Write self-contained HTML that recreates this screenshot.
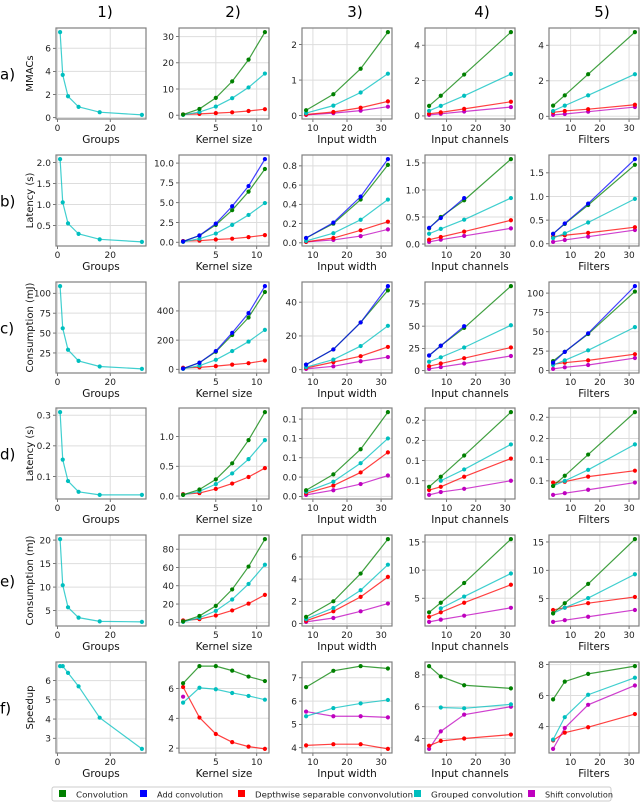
<!DOCTYPE html>
<html><head><meta charset="utf-8">
<style>
html,body{margin:0;padding:0;background:#fff;}
svg{display:block;font-family:"DejaVu Sans","Liberation Sans",sans-serif;}
</style></head>
<body>
<svg id="fig" width="640" height="802" viewBox="0 0 640 802" xmlns="http://www.w3.org/2000/svg"></svg>
<script>
const xGroups=[1,2,4,8,16,32];
const xKernel=[1,3,5,7,9,11];
const xWidth=[8,16,24,32];
const xChannels=[4,8,16,32];
const xFilters=[4,8,16,32];
const colTitles=["Groups","Kernel size","Input width","Input channels","Filters"];
const colHeaders=["1)","2)","3)","4)","5)"];
const rowLabels=["a)","b)","c)","d)","e)","f)"];
const rowYTitles=["MMACs","Latency (s)","Consumption (mJ)","Latency (s)","Consumption (mJ)","Speedup"];
const xTicks=[[0,20],[5,10],[10,20,30],[10,20,30],[10,20,30]];

// Row a) MMACs
const aConv=[null,[0.26,2.4,6.6,12.9,21.2,31.7],[0.15,0.6,1.32,2.35],[0.57,1.14,2.34,4.74],[0.6,1.18,2.37,4.74]];
const aAdd=[null,null,null,null,null];
const aDw=[null,[0.3,0.5,0.8,1.1,1.6,2.3],[0.03,0.1,0.22,0.4],[0.12,0.2,0.4,0.8],[0.22,0.3,0.4,0.65]];
const aGrp=[[7.4,3.7,1.85,0.93,0.47,0.24],[0.13,1.2,3.3,6.5,10.6,15.9],[0.07,0.28,0.65,1.18],[0.29,0.57,1.14,2.37],[0.3,0.6,1.18,2.37]];
const aShift=[null,[0.3,null,null,null,null,null],[0.02,0.07,0.14,0.25],[0.06,0.12,0.25,0.5],[0.08,0.13,0.26,0.52]];
const aTicks=[[0,2,4,6],[0,10,20,30],[0,1,2],[0,2,4],[0,2,4]];
const aLabels=[["0","2","4","6"],["0","10","20","30"],["0","1","2"],["0","2","4"],["0","2","4"]];

// Row b) Latency
const bConv=[null,[0.1,0.85,2.2,4.05,6.4,9.25],[0.05,0.2,0.45,0.81],[0.29,0.5,0.81,1.57],[0.21,0.42,0.82,1.67]];
const bAdd=[null,[0.1,0.85,2.35,4.55,7.1,10.5],[0.05,0.21,0.48,0.87],[0.3,0.48,0.85,null],[0.21,0.43,0.85,1.79]];
const bDw=[null,[0.15,0.2,0.35,0.45,0.65,0.9],[0.01,0.05,0.13,0.22],[0.08,0.13,0.23,0.44],[0.15,0.18,0.23,0.35]];
const bGrp=[[2.08,1.05,0.55,0.3,0.17,0.11],[0.05,0.45,1.1,2.2,3.45,4.95],[0.02,0.1,0.24,0.45],[0.19,0.28,0.45,0.85],[0.12,0.22,0.45,0.95]];
const bShift=[null,[0.15,null,null,null,null,null],[0.01,0.03,0.07,0.14],[0.04,0.08,0.15,0.29],[0.04,0.08,0.15,0.29]];
const bTicks=[[0.5,1,1.5,2],[0,2.5,5,7.5,10],[0,0.2,0.4,0.6,0.8],[0,0.5,1,1.5],[0,0.5,1,1.5]];
const bLabels=[["0.5","1.0","1.5","2.0"],["0.0","2.5","5.0","7.5","10.0"],["0.0","0.2","0.4","0.6","0.8"],["0.0","0.5","1.0","1.5"],["0.0","0.5","1.0","1.5"]];

// Row c) Consumption
const cConv=[null,[5,45,120,235,355,530],[3,12,28,47],[17,28,48,95],[12,24,47,102]];
const cAdd=[null,[5,45,125,250,385,570],[3,12,28,49.5],[17,28,50,null],[10,24,48,109]];
const cDw=[null,[10,13,22,32,42,60],[1,4.5,8,13.5],[5,8,14,26],[8,10,13,21]];
const cGrp=[[109,56,29,15,8,5],[3,25,65,125,190,270],[1.5,6,14,26],[10,15,26,51],[7,13,26,56]];
const cShift=[null,[10,null,null,null,null,null],[0.5,2,5,7.5],[2,4,8,16.5],[2,4,7,16]];
const cTicks=[[25,50,75,100],[0,200,400],[0,20,40],[0,25,50,75],[0,25,50,75,100]];
const cLabels=[["25","50","75","100"],["0","200","400"],["0","20","40"],["0","25","50","75"],["0","25","50","75","100"]];

// Row d) Latency
const dConv=[null,[0.02,0.11,0.28,0.55,0.94,1.41],[0.008,0.0285,0.061,0.109],[0.035,0.06,0.1125,0.22],[0.038,0.062,0.112,0.212]];
const dAdd=[null,null,null,null,null];
const dDw=[null,[0.03,0.05,0.12,0.21,0.32,0.47],[0.004,0.014,0.031,0.057],[0.027,0.035,0.06,0.105],[0.046,0.048,0.06,0.074]];
const dGrp=[[0.31,0.155,0.085,0.05,0.04,0.04],[0.02,0.08,0.2,0.38,0.62,0.94],[0.006,0.019,0.043,0.075],[null,0.05,0.078,0.14],[0.038,0.05,0.076,0.136]];
const dShift=[null,[0.03,null,null,null,null,null],[0.002,0.008,0.016,0.027],[0.015,0.022,0.03,0.05],[0.017,0.021,0.029,0.046]];
const dTicks=[[0.1,0.2,0.3],[0,0.5,1],[0,0.025,0.05,0.075,0.1],[0.05,0.1,0.15,0.2],[0.05,0.1,0.15,0.2]];
const dLabels=[["0.1","0.2","0.3"],["0.0","0.5","1.0"],["0.0","0.0","0.1","0.1","0.1"],["0.1","0.1","0.2","0.2"],["0.1","0.1","0.2","0.2"]];

// Row e) Consumption
const eConv=[null,[1,7,18,36,61,91],[0.6,2.0,4.5,7.6],[2.5,4.2,7.7,15.5],[2.4,4.2,7.6,15.5]];
const eAdd=[null,null,null,null,null];
const eDw=[null,[2,3.5,7.5,13,20.5,30],[0.25,1.1,2.4,4.2],[1.7,2.5,4.2,7.4],[3.0,3.4,4.2,5.3]];
const eGrp=[[20.2,10.4,5.7,3.5,2.7,2.6],[0.5,5,12.5,25,42,63],[0.4,1.4,3.0,5.3],[null,3.2,5.3,9.4],[2.4,3.4,5.1,9.3]];
const eShift=[null,[2,null,null,null,null,null],[0.15,0.5,1.1,1.8],[0.8,1.2,1.9,3.3],[0.9,1.2,1.8,3.0]];
const eTicks=[[5,10,15,20],[0,20,40,60,80],[0,2,4,6],[5,10,15],[5,10,15]];
const eLabels=[["5","10","15","20"],["0","20","40","60","80"],["0","2","4","6"],["5","10","15"],["5","10","15"]];

// Row f) Speedup
const fConv=[null,[6.35,7.5,7.5,7.2,6.8,6.5],[6.6,7.3,7.5,7.4],[8.55,7.9,7.35,7.15],[5.75,6.9,7.4,7.9]];
const fAdd=[null,null,null,null,null];
const fDw=[null,[6.1,4.05,2.95,2.4,2.1,1.95],[4.1,4.15,4.15,3.95],[3.55,3.85,4.0,4.25],[3.1,3.6,3.95,4.8]];
const fGrp=[[6.75,6.75,6.4,5.7,4.07,2.45],[5.05,6.05,5.95,5.7,5.5,5.25],[5.35,5.7,5.9,6.05],[null,5.95,5.9,6.15],[3.15,4.6,6.05,7.15]];
const fShift=[null,[5.45,null,null,null,null,null],[5.55,5.35,5.35,5.3],[3.35,4.45,5.5,6.0],[2.55,3.9,5.4,6.65]];
const fTicks=[[3,4,5,6],[2,4,6],[4,5,6,7],[4,6,8],[4,6,8]];
const fLabels=[["3","4","5","6"],["2","4","6"],["4","5","6","7"],["4","6","8"],["4","6","8"]];

const rows=[
 {conv:aConv,add:aAdd,dw:aDw,grp:aGrp,shift:aShift,ticks:aTicks,labels:aLabels},
 {conv:bConv,add:bAdd,dw:bDw,grp:bGrp,shift:bShift,ticks:bTicks,labels:bLabels},
 {conv:cConv,add:cAdd,dw:cDw,grp:cGrp,shift:cShift,ticks:cTicks,labels:cLabels},
 {conv:dConv,add:dAdd,dw:dDw,grp:dGrp,shift:dShift,ticks:dTicks,labels:dLabels},
 {conv:eConv,add:eAdd,dw:eDw,grp:eGrp,shift:eShift,ticks:eTicks,labels:eLabels},
 {conv:fConv,add:fAdd,dw:fDw,grp:fGrp,shift:fShift,ticks:fTicks,labels:fLabels}
];
const xsByCol=[xGroups,xKernel,xWidth,xChannels,xFilters];

const NS="http://www.w3.org/2000/svg";
const svg=document.getElementById("fig");
function mk(tag,attrs,parent){const e=document.createElementNS(NS,tag);for(const k in attrs)e.setAttribute(k,attrs[k]);(parent||svg).appendChild(e);return e;}

const lefts=[56,179,302,425,549], W=90;
const tops=[28,155,282,408,535,662], H=91;
const headerX=[105,233,355,482,602];
const seriesOrder=[["shift","#bf00bf","shift"],["dw","#ff0000","depthwise"],["grp","#00bfbf","grouped"],["conv","#008000","convolution"],["add","#0000ff","add-convolution"]];

colHeaders.forEach((t,i)=>{
  const e=mk("text",{x:headerX[i],y:17,"text-anchor":"middle","font-size":"15"});
  e.textContent=t;
  
  
});
rowLabels.forEach((t,r)=>{
  const e=mk("text",{x:0,y:tops[r]+H/2+6,"font-size":"15"});
  e.textContent=t;
  
  
});

rows.forEach((row,r)=>{
  for(let c=0;c<5;c++){
    const g=mk("g",{});
    
    
    const xs=xsByCol[c];
    const L=lefts[c],T=tops[r];
    const xmin0=Math.min(...xs),xmax0=Math.max(...xs),xm=(xmax0-xmin0)*0.05;
    const x0=xmin0-xm,x1=xmax0+xm;
    let vals=[];
    seriesOrder.forEach(s=>{const a=row[s[0]][c];if(a)a.forEach(v=>{if(v!==null)vals.push(v);});});
    const ymin0=Math.min(...vals),ymax0=Math.max(...vals),ym=(ymax0-ymin0)*0.05;
    const y0=ymin0-ym,y1=ymax0+ym;
    const sx=v=>L+(v-x0)/(x1-x0)*W;
    const sy=v=>T+H-(v-y0)/(y1-y0)*H;
    xTicks[c].forEach(t=>{
      const X=sx(t);
      const gl=mk("line",{x1:X,x2:X,y1:T,y2:T+H,stroke:"#dddddd","stroke-width":1},g);
      
      
      mk("line",{x1:X,x2:X,y1:T+H,y2:T+H+3,stroke:"#555","stroke-width":0.8},g);
      const tl=mk("text",{x:X,y:T+H+12,"text-anchor":"middle","font-size":"9",fill:"#222"},g);
      tl.textContent=String(t);
      
      
    });
    row.ticks[c].forEach((t,i)=>{
      const Y=sy(t);
      const gl=mk("line",{x1:L,x2:L+W,y1:Y,y2:Y,stroke:"#dddddd","stroke-width":1},g);
      
      
      mk("line",{x1:L-3,x2:L,y1:Y,y2:Y,stroke:"#555","stroke-width":0.8},g);
      const tl=mk("text",{x:L-5,y:Y+3.3,"text-anchor":"end","font-size":"9",fill:"#222"},g);
      tl.textContent=row.labels[c][i];
      
      
    });
    seriesOrder.forEach(s=>{
      const a=row[s[0]][c];
      if(!a)return;
      const sg=mk("g",{},g);
      
      
      let d="";let pen=false;
      a.forEach((v,i)=>{
        if(v===null){pen=false;return;}
        d+=(pen?"L":"M")+sx(xs[i]).toFixed(2)+","+sy(v).toFixed(2);pen=true;
      });
      const p=mk("path",{d:d,fill:"none",stroke:s[1],"stroke-width":1.2,"stroke-opacity":0.75},sg);
      
      
      a.forEach((v,i)=>{
        if(v===null)return;
        const m=mk("circle",{cx:sx(xs[i]),cy:sy(v),r:2.1,fill:s[1]},sg);
        
        
      });
    });
    const box=mk("rect",{x:L,y:T,width:W,height:H,fill:"none",stroke:"#808080","stroke-width":1.2},g);
    
    
    const xt=mk("text",{x:L+W/2,y:T+H+24,"text-anchor":"middle","font-size":"10.5",fill:"#111"},g);
    xt.textContent=colTitles[c];
    
    
    if(c===0){
      const yt=mk("text",{x:0,y:0,"text-anchor":"middle","font-size":"10",fill:"#111",transform:"translate(33,"+(T+H/2)+") rotate(-90)"},g);
      yt.textContent=rowYTitles[r];
      
      
    }
  }
});

const lg=mk("g",{});


mk("rect",{x:52,y:787,width:559,height:14,fill:"#fff",stroke:"#cccccc","stroke-width":1,rx:2},lg);
const legNames=["Convolution","Add convolution","Depthwise separable convonvolution","Grouped convolution","Shift convolution"];
const legColors=["#008000","#0000ff","#ff0000","#00bfbf","#bf00bf"];
const legSq=[59,140,238,414,528];
const legW=[52,66,158,92,68];
legNames.forEach((n,i)=>{
  const e=mk("g",{},lg);
  
  
  mk("rect",{x:legSq[i],y:790,width:7,height:7,fill:legColors[i]},e);
  const t=mk("text",{x:legSq[i]+17,y:797.5,"font-size":"8.3",fill:"#222",textLength:legW[i],lengthAdjust:"spacingAndGlyphs"},e);
  t.textContent=n;
});
</script>
</body></html>
